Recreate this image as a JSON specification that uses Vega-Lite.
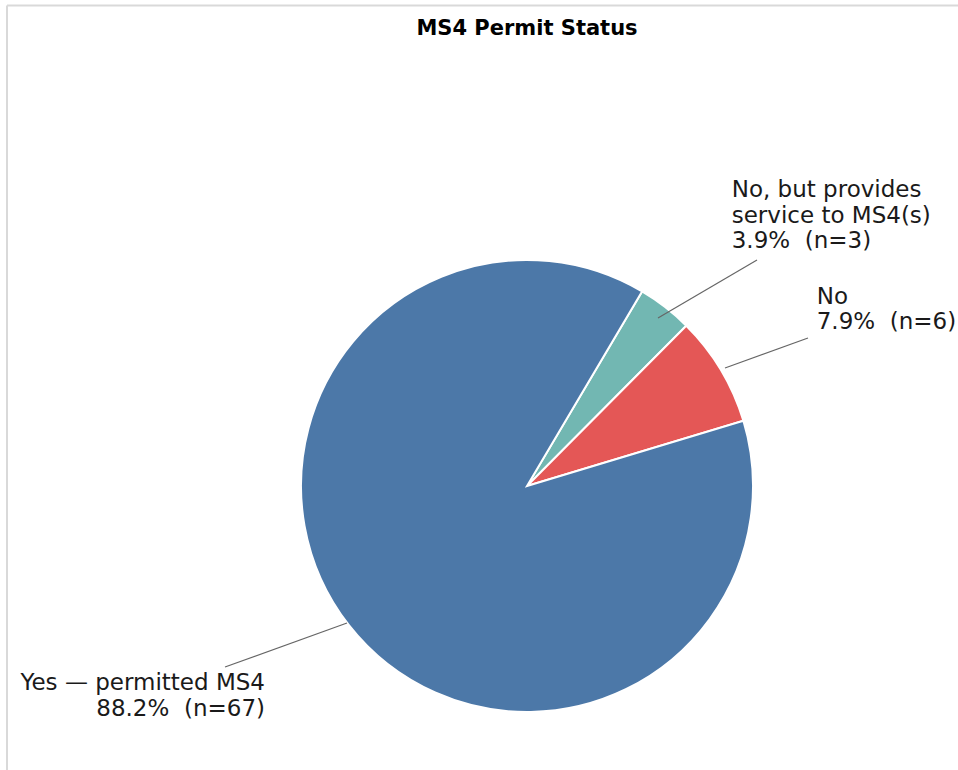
{
  "$schema": "https://vega.github.io/schema/vega-lite/v6.json",
  "width": 958,
  "height": 770,
  "padding": 0,
  "autosize": {"type": "none"},
  "background": "white",
  "config": {"view": {"stroke": null}, "font": "DejaVu Sans"},
  "datasets": {
    "slices": [
      {"label": "No, but provides service to MS4(s)", "n": 3, "ord": 1},
      {"label": "No", "n": 6, "ord": 2},
      {"label": "Yes — permitted MS4", "n": 67, "ord": 3}
    ],
    "leaders": [
      {"x": 0.5796, "y": 0.7434, "x2": 1.0177, "y2": 1.0},
      {"x": 0.8761, "y": 0.5221, "x2": 1.2434, "y2": 0.6549},
      {"x": -0.7965, "y": -0.6062, "x2": -1.3363, "y2": -0.8009}
    ],
    "frame": [
      {"x": -2.3009, "y": 2.1261, "x2": -2.3009, "y2": -1.2566},
      {"x": -2.3009, "y": 2.1261, "x2": 1.9071, "y2": 2.1261}
    ],
    "labelsR": [
      {"text": "No, but provides\nservice to MS4(s)\n3.9%\u00a0 (n=3)", "x": 0.9058, "y": 1.3097},
      {"text": "No\n7.9%\u00a0 (n=6)", "x": 1.2819, "y": 0.8363}
    ],
    "labelsL": [
      {"text": "Yes — permitted MS4\n88.2%\u00a0 (n=67)", "x": -1.1593, "y": -0.8717}
    ],
    "title": [
      {"text": "MS4 Permit Status", "x": 0, "y": 2.0221}
    ]
  },
  "layer": [
    {
      "data": {"name": "frame"},
      "mark": {"type": "rule", "color": "#d9d9d9", "strokeWidth": 2},
      "encoding": {
        "x": {"field": "x", "type": "quantitative", "scale": {"domain": [-2.3319, 1.9071], "nice": false, "zero": false}, "axis": null},
        "y": {"field": "y", "type": "quantitative", "scale": {"domain": [-1.2566, 2.1504], "nice": false, "zero": false}, "axis": null},
        "x2": {"field": "x2"},
        "y2": {"field": "y2"}
      }
    },
    {
      "data": {"name": "slices"},
      "mark": {"type": "arc", "outerRadius": 226, "stroke": "white", "strokeWidth": 2},
      "encoding": {
        "x": {"datum": 0, "type": "quantitative", "scale": {"domain": [-2.3319, 1.9071], "nice": false, "zero": false}, "axis": null},
        "y": {"datum": 0, "type": "quantitative", "scale": {"domain": [-1.2566, 2.1504], "nice": false, "zero": false}, "axis": null},
        "theta": {"field": "n", "type": "quantitative", "stack": true, "scale": {"range": [0.5341, 6.8173]}},
        "order": {"field": "ord", "type": "quantitative"},
        "color": {"field": "label", "type": "nominal", "legend": null,
          "scale": {"domain": ["No, but provides service to MS4(s)", "No", "Yes — permitted MS4"], "range": ["#72B7B2", "#E45756", "#4C78A8"]}}
      }
    },
    {
      "data": {"name": "leaders"},
      "mark": {"type": "rule", "color": "#666666", "strokeWidth": 1.2},
      "encoding": {
        "x": {"field": "x", "type": "quantitative", "axis": null},
        "y": {"field": "y", "type": "quantitative", "axis": null},
        "x2": {"field": "x2"},
        "y2": {"field": "y2"}
      }
    },
    {
      "data": {"name": "labelsR"},
      "mark": {"type": "text", "align": "left", "baseline": "middle", "lineBreak": "\n", "lineHeight": 25.5, "fontSize": 23, "font": "DejaVu Sans", "color": "#1a1a1a"},
      "encoding": {
        "x": {"field": "x", "type": "quantitative", "axis": null},
        "y": {"field": "y", "type": "quantitative", "axis": null},
        "text": {"field": "text"}
      }
    },
    {
      "data": {"name": "labelsL"},
      "mark": {"type": "text", "align": "right", "baseline": "middle", "lineBreak": "\n", "lineHeight": 25.5, "fontSize": 23, "font": "DejaVu Sans", "color": "#1a1a1a"},
      "encoding": {
        "x": {"field": "x", "type": "quantitative", "axis": null},
        "y": {"field": "y", "type": "quantitative", "axis": null},
        "text": {"field": "text"}
      }
    },
    {
      "data": {"name": "title"},
      "mark": {"type": "text", "align": "center", "baseline": "middle", "fontSize": 21, "fontWeight": "bold", "font": "DejaVu Sans", "color": "#000000"},
      "encoding": {
        "x": {"field": "x", "type": "quantitative", "axis": null},
        "y": {"field": "y", "type": "quantitative", "axis": null},
        "text": {"field": "text"}
      }
    }
  ]
}
